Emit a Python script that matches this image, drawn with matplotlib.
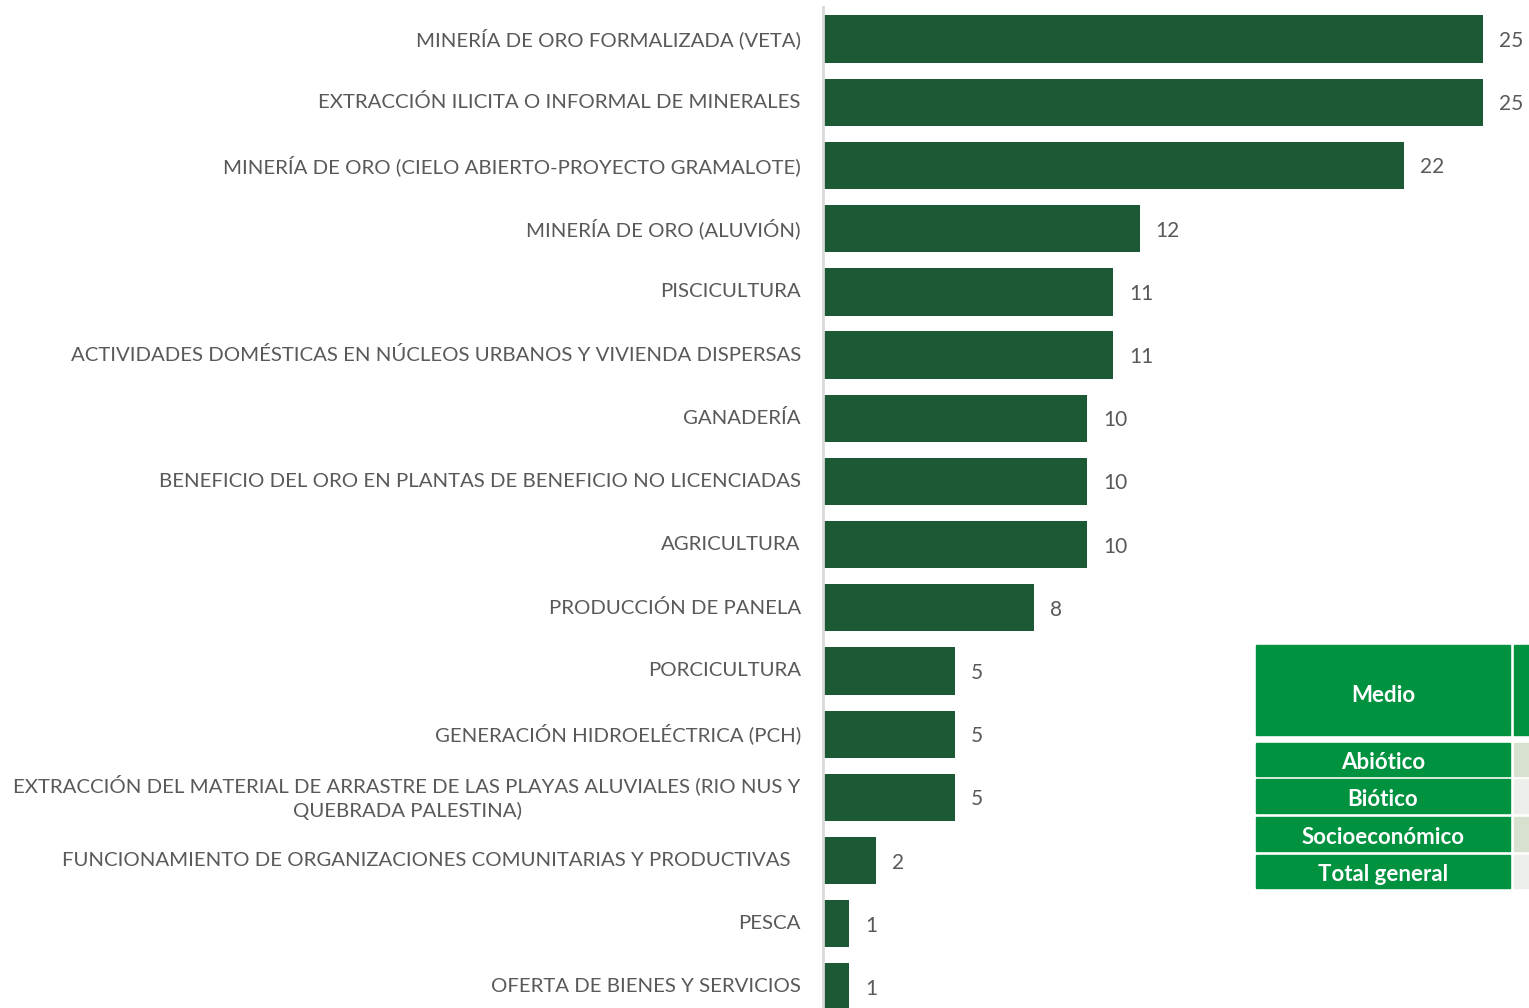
import matplotlib
matplotlib.use("Agg")
import matplotlib.pyplot as plt
from matplotlib.patches import Rectangle

# ── Data ────────────────────────────────────────────────────────────────────
actividades = [
    "MINERÍA DE ORO FORMALIZADA (VETA)",
    "EXTRACCIÓN ILICITA O INFORMAL DE MINERALES",
    "MINERÍA DE ORO (CIELO ABIERTO-PROYECTO GRAMALOTE)",
    "MINERÍA DE ORO (ALUVIÓN)",
    "PISCICULTURA",
    "ACTIVIDADES DOMÉSTICAS EN NÚCLEOS URBANOS Y VIVIENDA DISPERSAS",
    "GANADERÍA",
    "BENEFICIO DEL ORO EN PLANTAS DE BENEFICIO NO LICENCIADAS",
    "AGRICULTURA",
    "PRODUCCIÓN DE PANELA",
    "PORCICULTURA",
    "GENERACIÓN HIDROELÉCTRICA (PCH)",
    "EXTRACCIÓN DEL MATERIAL DE ARRASTRE DE LAS PLAYAS ALUVIALES (RIO NUS Y\nQUEBRADA PALESTINA)",
    "FUNCIONAMIENTO DE ORGANIZACIONES COMUNITARIAS Y PRODUCTIVAS  ",
    "PESCA",
    "OFERTA DE BIENES Y SERVICIOS",
]
conteo = [25, 25, 22, 12, 11, 11, 10, 10, 10, 8, 5, 5, 5, 2, 1, 1]

medio_header = "Medio"
medio_filas = ["Abiótico", "Biótico", "Socioeconómico", "Total general"]

# ── Style ───────────────────────────────────────────────────────────────────
plt.rcParams["font.family"] = ["Lato", "DejaVu Sans"]
BAR = "#1B5A35"
TXT = "#595959"
TAB_GREEN = "#00923F"
TAB_LIGHT = ["#D8E1D0", "#EDF0EA", "#D8E1D0", "#EDF0EA"]

W, H = 1529, 1008
fig = plt.figure(figsize=(W / 100, H / 100), dpi=100)

# axes spans past the bottom edge so the last bar is clipped by the figure
left_px, top_px, bot_px = 823, 7.4, 1018.6
ax = fig.add_axes([left_px / W, 1 - bot_px / H, (W - left_px) / W, (bot_px - top_px) / H])

y = range(len(actividades))
ax.barh(y, conteo, height=0.75, color=BAR)
ax.set_ylim(len(actividades) - 0.5, -0.5)
ax.set_xlim(0, (W - left_px) / 26.4)

for yi, v in zip(y, conteo):
    ax.text(v + 0.6, yi, str(v), va="center_baseline", ha="left", fontsize=15, color=TXT)

ax.set_yticks(list(y))
ax.set_yticklabels(actividades, fontsize=14.7, color=TXT)
for lab in ax.get_yticklabels():
    lab.set_multialignment("center")
    lab.set_verticalalignment("center")
    lab.set_linespacing(1.45)
ax.tick_params(axis="y", length=0, pad=16)
ax.set_xticks([])
for s in ["top", "right", "bottom"]:
    ax.spines[s].set_visible(False)
ax.spines["left"].set_color("#D9D9D9")
ax.spines["left"].set_linewidth(2)

# ── Partial summary table on the right ─────────────────────────────────────
def fig_rect(x0, y0, x1, y1, color):
    fig.patches.append(Rectangle((x0 / W, 1 - y1 / H), (x1 - x0) / W, (y1 - y0) / H,
                                 transform=fig.transFigure, color=color, zorder=3))

fig_rect(1256, 645, 1510, 735, TAB_GREEN)
fig_rect(1514, 645, W, 735, TAB_GREEN)
fig.text((1256 + 1510) / 2 / W, 1 - 693 / H, medio_header, ha="center", va="center_baseline",
         color="white", fontsize=16, fontweight="bold", zorder=4)

rows_y = [(743, 776), (779, 813), (817, 851), (855, 888)]
for (y0, y1), nombre, light in zip(rows_y, medio_filas, TAB_LIGHT):
    fig_rect(1256, y0, 1510, y1, TAB_GREEN)
    fig_rect(1514, y0, W, y1, light)
    fig.text((1256 + 1510) / 2 / W, 1 - ((y0 + y1) / 2 + 1) / H, nombre, ha="center",
             va="center_baseline", color="white", fontsize=16, fontweight="bold", zorder=4)

fig.savefig("out.png", dpi=100)
